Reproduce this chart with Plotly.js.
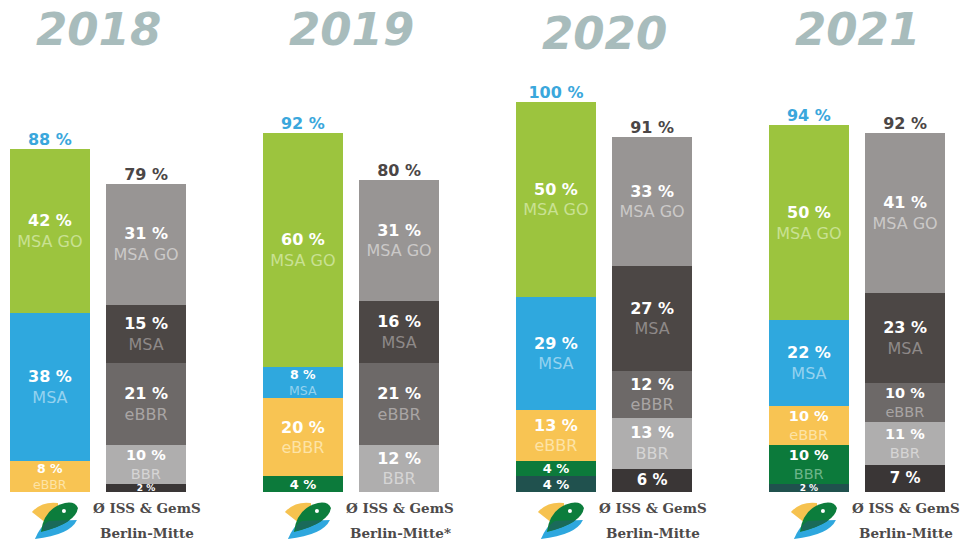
<!DOCTYPE html>
<html>
<head>
<meta charset="utf-8">
<script src="https://cdn.plot.ly/plotly-3.0.1.min.js"></script>
<style>
html,body{margin:0;padding:0;background:#fff;}
#chart{width:969px;height:544px;}
</style>
</head>
<body>
<div id="chart"></div>
<script>
// ---- data ----
var years = ['2018', '2019', '2020', '2021'];
var categories = ['MSA GO', 'MSA', 'eBBR', 'BBR', 'ohne'];

var schoolMsaGo = [42, 60, 50, 50];
var schoolMsa   = [38, 8, 29, 22];
var schoolEbbr  = [8, 20, 13, 10];
var schoolBbr   = [null, 4, 4, 10];
var schoolOhne  = [null, null, 4, 2];
var schoolTotal = [88, 92, 100, 94];

var berlinMsaGo = [31, 31, 33, 41];
var berlinMsa   = [15, 16, 27, 23];
var berlinEbbr  = [21, 21, 12, 10];
var berlinBbr   = [10, 12, 13, 11];
var berlinOhne  = [2, null, 6, 7];
var berlinTotal = [79, 80, 91, 92];

var berlinLine1 = ['Ø ISS & GemS', 'Ø ISS & GemS', 'Ø ISS & GemS', 'Ø ISS & GemS'];
var berlinLine2 = ['Berlin-Mitte', 'Berlin-Mitte*', 'Berlin-Mitte', 'Berlin-Mitte'];

// ---- styling ----
var OFF = 0.19, BW = 0.316;
var PXX = 253, X0 = 98, PXY = 3.9, Y0 = 492;
function dx(px) { return (px - X0) / PXX; }
function dy(py) { return (Y0 - py) / PXY; }

var schoolColors = { 'MSA GO': '#9cc43e', 'MSA': '#2fa8de', 'eBBR': '#f8c453', 'BBR': '#0c7a3b', 'ohne': '#20514e' };
var schoolSub    = { 'MSA GO': '#c9e193', 'MSA': '#94d2ef', 'eBBR': '#fde3a6', 'BBR': '#6cb58a', 'ohne': '#7a9a98' };
var berlinColors = { 'MSA GO': '#989594', 'MSA': '#4c4745', 'eBBR': '#6d6968', 'BBR': '#afaeae', 'ohne': '#3a3636' };
var berlinSub    = { 'MSA GO': '#cbc9c8', 'MSA': '#8e8988', 'eBBR': '#a9a5a4', 'BBR': '#d6d5d5', 'ohne': '#8a8686' };

var schoolData = { 'MSA GO': schoolMsaGo, 'MSA': schoolMsa, 'eBBR': schoolEbbr, 'BBR': schoolBbr, 'ohne': schoolOhne };
var berlinData = { 'MSA GO': berlinMsaGo, 'MSA': berlinMsa, 'eBBR': berlinEbbr, 'BBR': berlinBbr, 'ohne': berlinOhne };

function labelSize(v) {
  if (v === null) return 16;
  if (v <= 2) return 9;
  if (v <= 4) return 13;
  if (v <= 9) return 12.5;
  if (v <= 11) return 14.5;
  return 16;
}

var traces = [];
var order = ['ohne', 'BBR', 'eBBR', 'MSA', 'MSA GO'];
function addSide(data, colors, subs, off) {
  order.forEach(function (cat) {
    var vals = data[cat];
    var xs = years.map(function (y, i) { return i + off; });
    var txt = vals.map(function (v) {
      if (v === null) return '';
      var t = '<b>' + v + ' %</b>';
      if (v >= 8 && cat !== 'ohne') t += '<br><span style="color:' + subs[cat] + '">' + cat + '</span>';
      return t;
    });
    var sizes = vals.map(function (v) {
      if (cat === 'ohne' && v !== null && v > 4) return 15;
      return labelSize(v);
    });
    traces.push({
      type: 'bar', x: xs, y: vals, width: BW,
      marker: { color: colors[cat], line: { width: 0 } },
      text: txt, textposition: 'inside', insidetextanchor: 'middle',
      textangle: 0, constraintext: 'none',
      textfont: { family: 'DejaVu Sans', color: '#ffffff', size: sizes },
      hoverinfo: 'none', showlegend: false
    });
  });
}
addSide(schoolData, schoolColors, schoolSub, -OFF);
addSide(berlinData, berlinColors, berlinSub, OFF);

// totals above bars
traces.push({
  type: 'scatter', mode: 'text',
  x: years.map(function (y, i) { return i - OFF; }), y: schoolTotal,
  text: schoolTotal.map(function (v) { return '<b>' + v + ' %</b>'; }),
  textposition: 'top center',
  textfont: { family: 'DejaVu Sans', size: 16, color: '#3aa7dc' },
  hoverinfo: 'none', showlegend: false, cliponaxis: false
});
traces.push({
  type: 'scatter', mode: 'text',
  x: years.map(function (y, i) { return i + OFF; }), y: berlinTotal,
  text: berlinTotal.map(function (v) { return '<b>' + v + ' %</b>'; }),
  textposition: 'top center',
  textfont: { family: 'DejaVu Sans', size: 16, color: '#4b4646' },
  hoverinfo: 'none', showlegend: false, cliponaxis: false
});

var annotations = [];
years.forEach(function (y, i) {
  annotations.push({
    x: i, y: dy(i === 2 ? 33 : 29), xref: 'x', yref: 'y', text: '<b><i>' + y + '</i></b>',
    showarrow: false, font: { family: 'DejaVu Sans', size: 45, color: '#a8bcbc' }
  });
  annotations.push({
    x: i + OFF + 0.005, y: dy(508), xref: 'x', yref: 'y', text: '<b>' + berlinLine1[i] + '</b>',
    showarrow: false, font: { family: 'DejaVu Serif', size: 13.5, color: '#4d4a4a' }
  });
  annotations.push({
    x: i + OFF + 0.005, y: dy(533), xref: 'x', yref: 'y', text: '<b>' + berlinLine2[i] + '</b>',
    showarrow: false, font: { family: 'DejaVu Serif', size: 13.5, color: '#4d4a4a' }
  });
});

// logo (bird) shapes, in pixel offsets relative to the school bar centre
function P(i, pts) {
  var cx = X0 + PXX * i - OFF * PXX;
  return pts.replace(/(-?\d+(?:\.\d+)?),(-?\d+(?:\.\d+)?)/g, function (m, a, b) {
    return dx(cx + parseFloat(a)).toFixed(4) + ',' + dy(parseFloat(b)).toFixed(3);
  });
}
var shapes = [];
years.forEach(function (y, i) {
  shapes.push({ type: 'path', xref: 'x', yref: 'y', line: { width: 0 }, fillcolor: '#f6c24f',
    path: P(i, 'M -18,512 Q -8,501 8,503 L 9,514 L -4,523 Z') });
  shapes.push({ type: 'path', xref: 'x', yref: 'y', line: { width: 0 }, fillcolor: '#2ea7de',
    path: P(i, 'M -15,539 Q -9,525 -1,521 L 27,520 Q 20,535 -15,539 Z') });
  shapes.push({ type: 'path', xref: 'x', yref: 'y', line: { width: 0 }, fillcolor: '#0c7d3c',
    path: P(i, 'M -9,532 Q -6,508 15,503 Q 25,501 28,508 Q 26,523 -9,532 Z') });
  shapes.push({ type: 'path', xref: 'x', yref: 'y', line: { width: 0 }, fillcolor: '#1a6a5a',
    path: P(i, 'M -7,526 Q -3,522 -1,521 L 20,520 Q 8,528 -7,531 Z') });
  shapes.push({ type: 'circle', xref: 'x', yref: 'y', line: { width: 0 }, fillcolor: '#ffffff',
    x0: dx(X0 + PXX * i - OFF * PXX + 12), x1: dx(X0 + PXX * i - OFF * PXX + 16),
    y0: dy(509), y1: dy(513) });
});

var layout = {
  width: 969, height: 544,
  margin: { l: 0, r: 0, t: 0, b: 0 },
  paper_bgcolor: '#ffffff', plot_bgcolor: '#ffffff',
  barmode: 'stack', bargap: 0,
  showlegend: false, hovermode: false,
  xaxis: { range: [dx(0), dx(969)], showgrid: false, zeroline: false, showticklabels: false, showline: false, ticks: '', fixedrange: true },
  yaxis: { range: [dy(544), dy(0)], showgrid: false, zeroline: false, showticklabels: false, showline: false, ticks: '', fixedrange: true },
  annotations: annotations,
  shapes: shapes
};

Plotly.newPlot('chart', traces, layout, { displayModeBar: false, staticPlot: true });
</script>
</body>
</html>
